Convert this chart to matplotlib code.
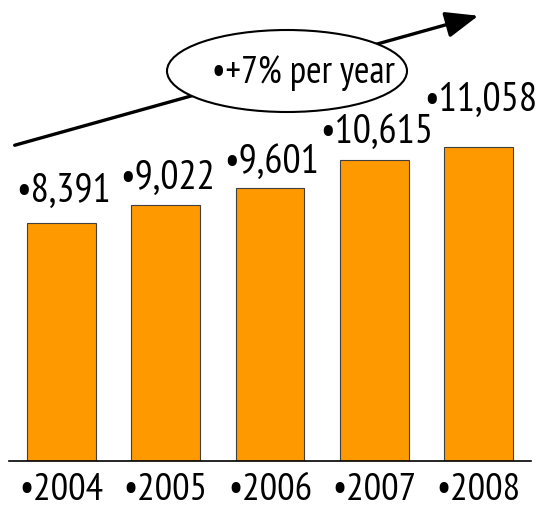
import matplotlib.pyplot as plt
from matplotlib.patches import Ellipse

# data
years = ['2004', '2005', '2006', '2007', '2008']
sales = [8391, 9022, 9601, 10615, 11058]
value_labels = ['8,391', '9,022', '9,601', '10,615', '11,058']
# gap between bar top and label baseline (pixels), as in the original
label_gap = [22, 17, 16, 18, 37]

plt.rcParams['font.family'] = ['PT Sans Narrow', 'DejaVu Sans']

W, H = 536, 510
fig = plt.figure(figsize=(W / 100, H / 100), dpi=100)

# bar axes: baseline at y=462 px, x from 9 to 531 px
ax = fig.add_axes([9 / W, (H - 462) / H, 522 / W, 462 / H])
x = range(len(years))
ax.bar(x, sales, width=0.66, color='#FF9900', edgecolor='#404040', linewidth=0.8)
ax.set_xlim(-0.5, 4.5)
ax.set_ylim(0, 462 / (314 / 11058))

for i, v in enumerate(sales):
    ax.annotate('\u2022' + value_labels[i], xy=(i, v), xytext=(2, label_gap[i]),
                textcoords='offset pixels', ha='center', va='baseline', fontsize=29)

ax.set_xticks(list(x))
ax.set_xticklabels(['\u2022' + y for y in years], fontsize=28)
ax.tick_params(axis='x', length=0, pad=8)
ax.set_yticks([])
for s in ['top', 'left', 'right']:
    ax.spines[s].set_visible(False)
ax.spines['bottom'].set_linewidth(1.2)

# overlay for the growth arrow and ellipse (pixel coords, y down)
ov = fig.add_axes([0, 0, 1, 1], facecolor='none')
ov.set_xlim(0, W)
ov.set_ylim(H, 0)
ov.axis('off')
ov.annotate('', xy=(481, 16), xytext=(12, 147),
            arrowprops=dict(arrowstyle='-|>,head_length=1.0,head_width=0.4',
                            color='black', lw=2.4, mutation_scale=20))
ov.add_patch(Ellipse((287, 72), 240, 82, facecolor='white', edgecolor='black',
                     lw=1.5, zorder=5))
ov.text(303, 73, '\u2022+7% per year', ha='center', va='center', fontsize=27, zorder=6)

plt.savefig('out.png', dpi=100)
